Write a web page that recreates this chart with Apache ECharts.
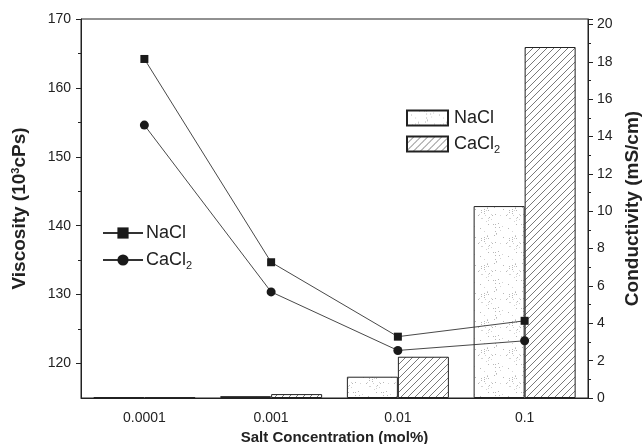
<!DOCTYPE html>
<html><head><meta charset="utf-8">
<script src="https://cdn.jsdelivr.net/npm/echarts@6/dist/echarts.min.js"></script>
<style>html,body{margin:0;padding:0;background:#fff}#c{width:644px;height:444px}</style>
</head><body><div id="c"></div>
<script>
// ---- data ----
const categories = ['0.0001', '0.001', '0.01', '0.1'];
const viscNaCl = [164.2, 134.7, 123.9, 126.2];
const viscCaCl2 = [154.6, 130.4, 121.9, 123.3];
const condNaCl = [0.05, 0.1, 1.14, 10.28];
const condCaCl2 = [0.03, 0.21, 2.21, 18.8];
const leftTicks = [120, 130, 140, 150, 160, 170];
const leftMinor = [125, 135, 145, 155, 165];

// ---- fill patterns ----
function hatch() {
  const s = 7, c = document.createElement('canvas');
  c.width = s; c.height = s;
  const g = c.getContext('2d');
  g.fillStyle = '#fff'; g.fillRect(0, 0, s, s);
  g.strokeStyle = '#6a6a6a'; g.lineWidth = 0.9;
  g.beginPath();
  g.moveTo(-1, s + 1); g.lineTo(s + 1, -1);
  g.moveTo(-1, 1); g.lineTo(1, -1);
  g.moveTo(s - 1, s + 1); g.lineTo(s + 1, s - 1);
  g.stroke();
  return c;
}
function stipple() {
  const s = 28, c = document.createElement('canvas');
  c.width = s; c.height = s;
  const g = c.getContext('2d');
  g.fillStyle = '#fff'; g.fillRect(0, 0, s, s);
  let seed = 12345;
  const r = () => { seed = (seed * 1103515245 + 12345) % 2147483648; return seed / 2147483648; };
  for (let i = 0; i < 40; i++) {
    g.fillStyle = r() > 0.5 ? '#b8b8b8' : '#d4d4d4';
    g.fillRect(Math.floor(r() * s), Math.floor(r() * s), 1, 1);
  }
  return c;
}

const FONT = '"Liberation Sans", Arial, sans-serif';
const TXT = '#222';
const chart = echarts.init(document.getElementById('c'), null, {renderer: 'canvas'});
const nameMap = {NaCl_bar: 'NaCl', CaCl2_bar: 'CaCl{sub|2}', NaCl: 'NaCl', CaCl2: 'CaCl{sub|2}'};
const legendRich = {sub: {fontSize: 11, verticalAlign: 'bottom', padding: [12, 0, 0, 0], fontFamily: FONT, color: TXT}};

chart.setOption({
  animation: false,
  backgroundColor: '#fff',
  grid: {left: 81, right: 56, top: 19, bottom: 46, outerBoundsMode: 'none', containLabel: false,
         show: true, borderColor: '#222', borderWidth: 1, backgroundColor: 'transparent'},
  legend: [
    {data: ['NaCl', 'CaCl2'], orient: 'vertical', left: 97, top: 219, itemWidth: 40, itemHeight: 14, itemGap: 9,
     formatter: n => nameMap[n], textStyle: {fontFamily: FONT, fontSize: 18, color: TXT, padding: [0, 0, 0, -2], rich: legendRich}},
    {data: ['NaCl_bar', 'CaCl2_bar'], orient: 'vertical', left: 401, top: 104, itemWidth: 41, itemHeight: 15, itemGap: 8,
     icon: 'rect', formatter: n => nameMap[n],
     textStyle: {fontFamily: FONT, fontSize: 18, color: TXT, padding: [0, 0, 0, 1], rich: legendRich}}
  ],
  xAxis: {
    type: 'category', data: categories, boundaryGap: true,
    axisLine: {lineStyle: {color: '#222', width: 1}},
    axisTick: {alignWithLabel: true, length: 5, lineStyle: {color: '#222'}},
    axisLabel: {fontFamily: FONT, fontSize: 14, color: TXT, margin: 13},
    name: 'Salt Concentration (mol%)', nameLocation: 'middle', nameGap: 31,
    nameTextStyle: {fontFamily: FONT, fontSize: 15, fontWeight: 'bold', color: TXT}
  },
  yAxis: [
    {type: 'value', position: 'left', min: 115, max: 170,
     axisLine: {show: true, lineStyle: {color: '#222'}},
     axisTick: {show: true, length: 5, customValues: leftTicks, lineStyle: {color: '#222'}},
     axisLabel: {fontFamily: FONT, fontSize: 14, color: TXT, margin: 10, customValues: leftTicks},
     splitLine: {show: false},
     name: 'Viscosity (10{sup|3}cPs)', nameLocation: 'middle', nameGap: 51, nameRotate: 90,
     nameTextStyle: {fontFamily: FONT, fontSize: 19, fontWeight: 'bold', color: TXT,
       rich: {sup: {fontSize: 11, fontWeight: 'bold', verticalAlign: 'top', padding: [0, 0, 9, 0], fontFamily: FONT, color: TXT}}}},
    {type: 'value', position: 'right', min: 0, max: 20.3, interval: 2,
     axisLine: {show: true, lineStyle: {color: '#222'}},
     axisTick: {show: true, length: 5, lineStyle: {color: '#222'}},
     minorTick: {show: true, splitNumber: 2, length: 3, lineStyle: {color: '#222'}},
     axisLabel: {fontFamily: FONT, fontSize: 14, color: TXT, margin: 9, showMaxLabel: true,
       formatter: v => (Math.abs(v - Math.round(v)) < 1e-6 && Math.round(v) % 2 === 0) ? String(Math.round(v)) : ''},
     splitLine: {show: false},
     name: 'Conductivity (mS/cm)', nameLocation: 'middle', nameGap: 34, nameRotate: 90,
     nameTextStyle: {fontFamily: FONT, fontSize: 19, fontWeight: 'bold', color: TXT}},
    {type: 'value', position: 'left', min: 115, max: 170,
     axisLine: {show: false}, axisLabel: {show: false}, splitLine: {show: false},
     axisTick: {show: true, length: 3, customValues: leftMinor, lineStyle: {color: '#222'}}}
  ],
  series: [
    {name: 'NaCl_bar', type: 'bar', yAxisIndex: 1, data: condNaCl, barWidth: 51, barGap: '0%', z: 1,
     itemStyle: {color: {image: stipple(), repeat: 'repeat'}, borderColor: '#222', borderWidth: 1}},
    {name: 'CaCl2_bar', type: 'bar', yAxisIndex: 1, data: condCaCl2, barWidth: 51, barGap: '0%', z: 1,
     itemStyle: {color: {image: hatch(), repeat: 'repeat'}, borderColor: '#222', borderWidth: 1}},
    {name: 'NaCl', type: 'line', yAxisIndex: 0, data: viscNaCl, symbol: 'rect', symbolSize: 8, z: 5,
     lineStyle: {color: '#333', width: 0.9}, itemStyle: {color: '#1a1a1a'}},
    {name: 'CaCl2', type: 'line', yAxisIndex: 0, data: viscCaCl2, symbol: 'circle', symbolSize: 9, z: 5,
     lineStyle: {color: '#333', width: 0.9}, itemStyle: {color: '#1a1a1a'}}
  ]
});
</script></body></html>
